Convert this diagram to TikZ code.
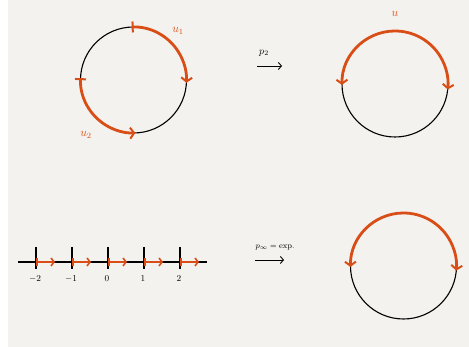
\documentclass[tikz,border=0pt]{standalone}
\usetikzlibrary{arrows.meta}
\definecolor{paper}{RGB}{244,242,239}
\definecolor{rust}{RGB}{216,78,22}
\tikzset{
  circ/.style={line width=1.1pt, black},
  piece/.style={line width=2.8pt, rust, line cap=round},
  endbar/.tip={Bar[width=11pt,line width=2pt]},
  endtip/.tip={Straight Barb[length=4pt,width=11pt,line width=2pt]},
  lab/.style={rust, font=\large},
  map/.style={->, >={Straight Barb[length=3pt,width=7pt]}, line width=0.9pt}
}
\begin{document}
\begin{tikzpicture}[x=1pt, y=1pt]
\useasboundingbox (0,0) rectangle (469,347);
\fill[paper] (8,0) rectangle (469,347);
% Circle with u_1, u_2
\coordinate (c1) at (133.5,267);
\draw[circ] (c1) circle (53);
\draw[piece, endbar-endtip] (c1) ++(92:53) arc (92:-3:53);
\draw[piece, endbar-endtip] (c1) ++(178:53) arc (178:272:53);
\node[lab] (u1) at (178,316) {$u_1$};
\node[lab] (u2) at (86,212) {$u_2$};
% Map p_2
\coordinate (a1) at (257,281);
\coordinate (b1) at (282,281);
\draw[map] (a1) -- (b1);
\node (p2) at (264,294) {$p_2$};
% Circle with u
\coordinate (c2) at (395,263);
\draw[circ] (c2) circle (53);
\draw[piece, endtip-endtip] (c2) ++(181:53) arc (181:-6:53);
\node[lab] (u) at (395,333) {$u$};
% Real line
\coordinate (l0) at (18,85);
\coordinate (l1) at (207,85);
\draw[circ] (l0) -- (l1);
\foreach \k/\t in {-2/$-2$, -1/$-1$, 0/$0$, 1/$1$, 2/$2$} {
  \coordinate (t\k) at (108+36*\k,85);
  \draw[circ] (108+36*\k,100) -- (108+36*\k,78);
  \node[font=\small] (n\k) at (107+36*\k,68) {\t};
  \draw[piece, line width=2.2pt,
        {Bar[width=8pt,line width=1.6pt]}-{Straight Barb[length=3pt,width=8pt,line width=1.6pt]}]
        (t\k) -- ++(19,0);
}
% Map p_infinity
\coordinate (a2) at (255,87);
\coordinate (b2) at (284,87);
\draw[map] (a2) -- (b2);
\node[font=\footnotesize] (pinf) at (275,99) {$p_\infty = \mathrm{exp.}$};
% Circle with exp image
\coordinate (c3) at (403.5,81);
\draw[circ] (c3) circle (53);
\draw[piece, endtip-endtip] (c3) ++(181:53) arc (181:-5:53);
\end{tikzpicture}
\end{document}
